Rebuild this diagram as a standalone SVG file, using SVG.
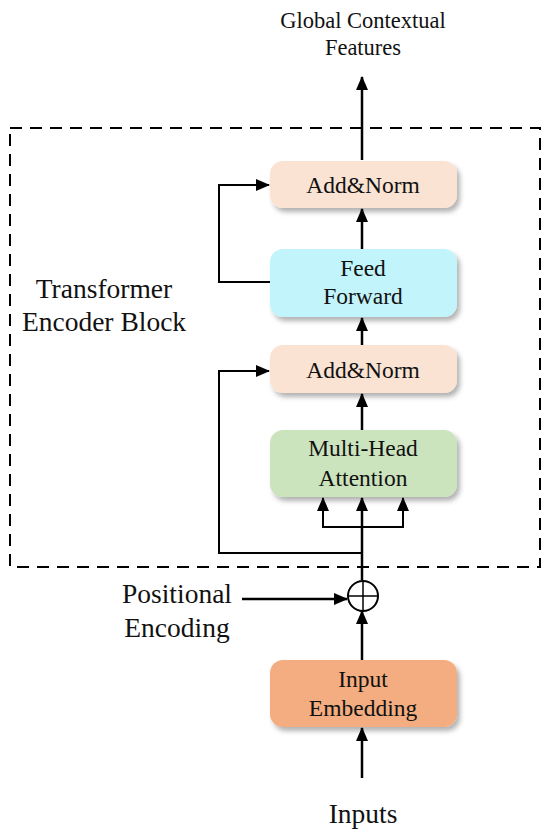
<svg xmlns="http://www.w3.org/2000/svg" width="550" height="840" viewBox="0 0 550 840">
<style>
text{font-family:"Liberation Serif","Times New Roman",serif;fill:#111;text-anchor:middle}
.lbl{font-size:23.5px}
.top{font-size:22.5px}
.big{font-size:27.5px}
.ln{fill:none;stroke:#000;stroke-width:2.5}
.ln2{fill:none;stroke:#000;stroke-width:2}
.box{filter:url(#sh)}
</style>
<defs>
<filter id="sh" x="-10%" y="-20%" width="125%" height="150%">
<feDropShadow dx="3" dy="4" stdDeviation="2.5" flood-color="#000" flood-opacity="0.3"/>
</filter>
<marker id="ah" viewBox="0 0 14 12" refX="13" refY="6" markerWidth="14" markerHeight="12" markerUnits="userSpaceOnUse" orient="auto">
<path d="M0,0 L14,6 L0,12 Z" fill="#000"/>
</marker>
</defs>
<rect x="10" y="128" width="530" height="439" fill="none" stroke="#000" stroke-width="2" stroke-dasharray="12,8"/>
<text class="big" x="104" y="298">Transformer</text>
<text class="big" x="104" y="331">Encoder Block</text>
<g id="connectors">
<line class="ln" x1="362" y1="160" x2="362" y2="77" marker-end="url(#ah)"/>
<line class="ln" x1="362" y1="249" x2="362" y2="209" marker-end="url(#ah)"/>
<line class="ln" x1="362" y1="345" x2="362" y2="318" marker-end="url(#ah)"/>
<line class="ln" x1="362" y1="430" x2="362" y2="394" marker-end="url(#ah)"/>
<line class="ln" x1="362" y1="580" x2="362" y2="498" marker-end="url(#ah)"/>
<polyline class="ln2" points="323,498 323,527 403,527 403,498" />
<line class="ln2" x1="323" y1="520" x2="323" y2="498" marker-end="url(#ah)"/>
<line class="ln2" x1="403" y1="520" x2="403" y2="498" marker-end="url(#ah)"/>
<polyline class="ln2" points="362,553 219,553 219,371 269,371" marker-end="url(#ah)"/>
<polyline class="ln2" points="270,282 219,282 219,185 269,185" marker-end="url(#ah)"/>
<line class="ln" x1="242" y1="599" x2="347" y2="599" marker-end="url(#ah)"/>
<line class="ln" x1="362" y1="660" x2="362" y2="611" marker-end="url(#ah)"/>
<line class="ln" x1="362" y1="778" x2="362" y2="728" marker-end="url(#ah)"/>
</g>
<g id="add-norm-2">
<rect class="box" x="270" y="161" width="187" height="47" rx="13" fill="#FAE3D3"/>
<text class="lbl" x="363" y="193">Add&amp;Norm</text>
</g>
<g id="feed-forward">
<rect class="box" x="270" y="249" width="187" height="68" rx="13" fill="#C2F4FB"/>
<text class="lbl" x="363" y="276">Feed</text>
<text class="lbl" x="363" y="304">Forward</text>
</g>
<g id="add-norm-1">
<rect class="box" x="270" y="345" width="187" height="48" rx="13" fill="#FAE3D3"/>
<text class="lbl" x="363" y="378">Add&amp;Norm</text>
</g>
<g id="multi-head-attention">
<rect class="box" x="270" y="430" width="187" height="67" rx="13" fill="#CCE4BE"/>
<text class="lbl" x="363" y="456">Multi-Head</text>
<text class="lbl" x="363" y="486">Attention</text>
</g>
<g id="add-op">
<circle cx="363" cy="596" r="15" fill="#fff" stroke="#000" stroke-width="2"/>
<line x1="348" y1="596" x2="378" y2="596" stroke="#000" stroke-width="1.5"/>
<line x1="363" y1="581" x2="363" y2="611" stroke="#000" stroke-width="1.5"/>
</g>
<g id="input-embedding">
<rect class="box" x="270" y="660" width="187" height="67" rx="13" fill="#F3AD80"/>
<text class="lbl" x="363" y="687">Input</text>
<text class="lbl" x="363" y="716">Embedding</text>
</g>
<g id="labels">
<text class="big" x="177" y="603">Positional</text>
<text class="big" x="177" y="637">Encoding</text>
<text class="big" x="363" y="823">Inputs</text>
<text class="top" x="363" y="28">Global Contextual</text>
<text class="top" x="363" y="55">Features</text>
</g>
</svg>
